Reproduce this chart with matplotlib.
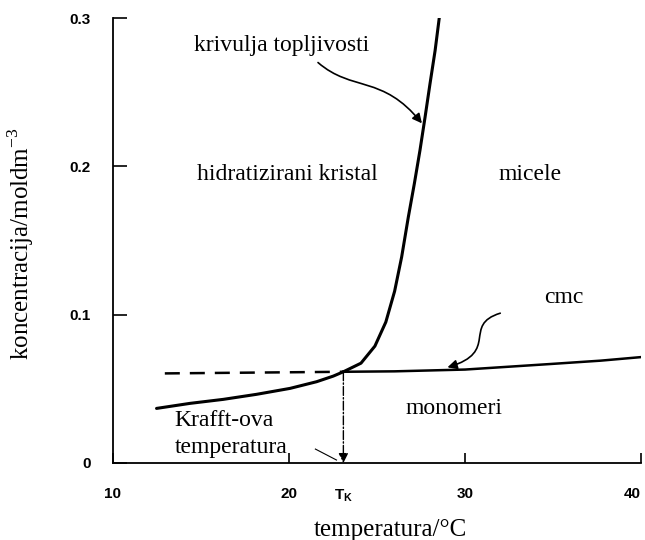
import numpy as np
import matplotlib
matplotlib.use('Agg')
import matplotlib.pyplot as plt
from matplotlib.path import Path
from matplotlib.patches import FancyArrowPatch

# solubility curve (krivulja topljivosti)
sol_t = [12.48, 14.38, 16.27, 18.16, 20.06, 21.57, 22.52, 23.09, 24.09, 24.88, 25.5,
         26.0, 26.4, 26.78, 27.12, 27.44, 27.73, 28.01, 28.30, 28.54]
sol_c = [0.0368, 0.0402, 0.0429, 0.0463, 0.0503, 0.0548, 0.0586, 0.0615, 0.0673, 0.0788, 0.0950,
         0.1158, 0.1389, 0.1659, 0.1883, 0.2108, 0.2332, 0.2557, 0.2781, 0.3005]

# cmc line (monomeri / micele border)
cmc_t = [23.09, 26.0, 30.0, 34.8, 37.7, 40.0]
cmc_c = [0.0615, 0.0618, 0.063, 0.0667, 0.069, 0.0714]

# dashed extension of the cmc line below T_K
dash_t = [12.95, 23.09]
dash_c = [0.0604, 0.0615]

t_krafft = 23.09
c_krafft = 0.0615

x_ticks = [10, 20, 30, 40]
x_labels = ['10', '20', '30', '40']
y_ticks = [0, 0.1, 0.2, 0.3]
y_labels = ['0', '0.1', '0.2', '0.3']

serif = 'Liberation Serif'

fig = plt.figure(figsize=(6.45, 5.4), dpi=100)
ax = fig.add_axes([0.175, 0.1426, 0.819, 0.824])

ax.plot(sol_t, sol_c, color='black', lw=2.2, solid_capstyle='round', solid_joinstyle='round')
ax.plot(cmc_t, cmc_c, color='black', lw=1.8)
ax.plot(dash_t, dash_c, color='black', lw=1.8, dashes=(6, 4))

# dash-dot arrow down to T_K
ax.annotate('', xy=(t_krafft, 0), xytext=(t_krafft, c_krafft),
            arrowprops=dict(arrowstyle='-|>', color='black', lw=1.0, ls='-.',
                            mutation_scale=14, shrinkA=0, shrinkB=0))

ax.set_xlim(10, 40)
ax.set_ylim(0, 0.3)
ax.spines['top'].set_visible(False)
ax.spines['right'].set_visible(False)
for s in ['left', 'bottom']:
    ax.spines[s].set_linewidth(1.3)

ax.set_xticks(x_ticks)
ax.set_xticklabels(x_labels, fontweight='bold', fontsize=11, family='Liberation Sans')
ax.get_xticklabels()[-1].set_ha('right')
ax.set_yticks(y_ticks)
ax.set_yticklabels(y_labels, fontweight='bold', fontsize=11, family='Liberation Sans')
ax.tick_params(axis='x', direction='in', length=7, width=1.2, pad=17)
ax.tick_params(axis='y', direction='in', length=10, width=1.2, pad=16)

ax.text(t_krafft, -0.0165, r'T$_\mathregular{K}$', ha='center', va='top',
        fontsize=11, fontweight='bold', family='Liberation Sans')

ax.set_xlabel('temperatura/°C', family=serif, fontsize=18)
ax.xaxis.set_label_coords(0.525, -0.125)
ax.set_ylabel(r'koncentracija/moldm$^{\mathregular{-3}}$', family=serif, fontsize=18)
ax.yaxis.set_label_coords(-0.145, 0.494)

# region labels
txt = dict(family=serif, fontsize=17, color='black')
ax.text(19.6, 0.2815, 'krivulja topljivosti', ha='center', va='center', **txt)
ax.text(19.9, 0.1945, 'hidratizirani kristal', ha='center', va='center', **txt)
ax.text(33.7, 0.1945, 'micele', ha='center', va='center', **txt)
ax.text(35.6, 0.1115, 'cmc', ha='center', va='center', **txt)
ax.text(29.4, 0.0365, 'monomeri', ha='center', va='center', **txt)
ax.text(13.5, 0.0285, 'Krafft-ova', ha='left', va='center', **txt)
ax.text(13.5, 0.0105, 'temperatura', ha='left', va='center', **txt)
ax.plot([21.5, 22.7], [0.0094, 0.002], color='black', lw=0.8)

# wavy pointer arrows
def wavy(p0, p1, p2, p3):
    path = Path([p0, p1, p2, p3], [Path.MOVETO, Path.CURVE4, Path.CURVE4, Path.CURVE4])
    arr = FancyArrowPatch(path=path, arrowstyle='-|>', mutation_scale=14,
                          color='black', lw=1.2, transform=ax.transData)
    ax.add_patch(arr)

wavy((21.65, 0.270), (23.6, 0.250), (25.3, 0.262), (27.55, 0.229))
wavy((32.0, 0.101), (29.8, 0.093), (32.0, 0.075), (29.0, 0.0645))

fig.savefig('out.png', dpi=100)
